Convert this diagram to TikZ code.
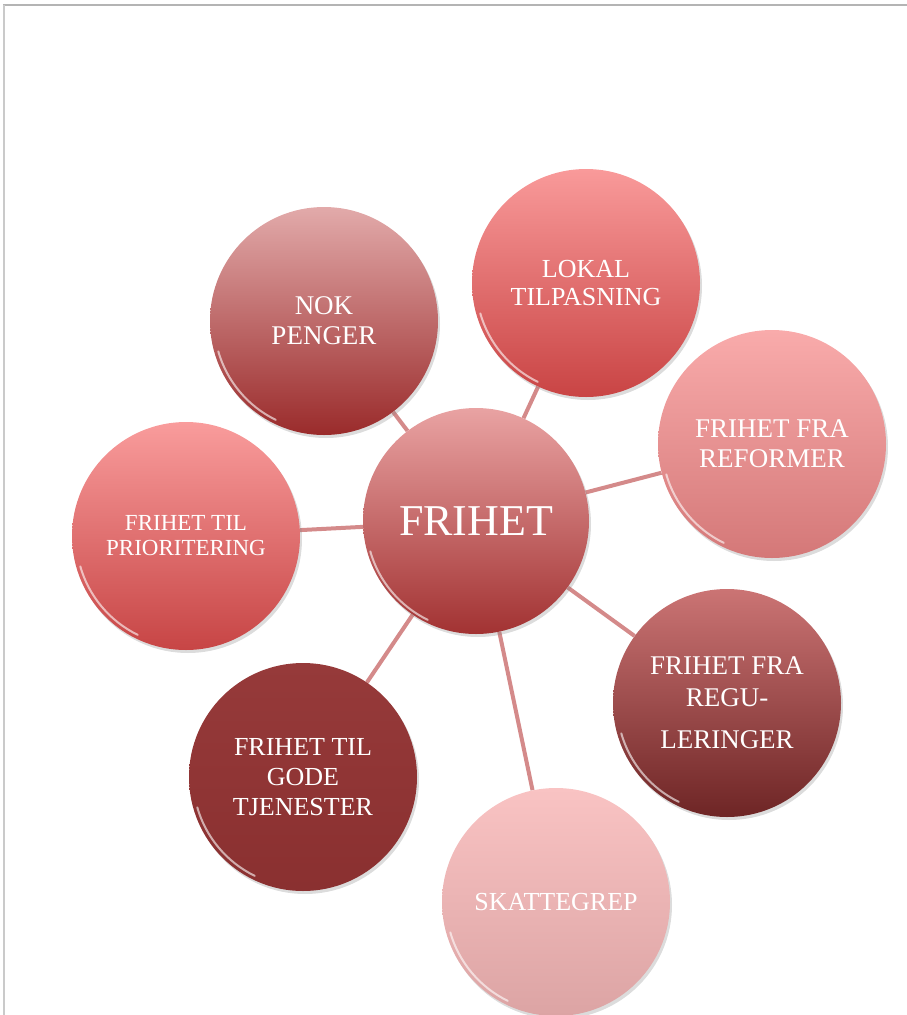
\documentclass[tikz,border=0pt]{standalone}
\usepackage{fontspec}
\setmainfont{Liberation Serif}
\usetikzlibrary{backgrounds,shadows}
\definecolor{spokecol}{HTML}{D48A8A}
\definecolor{framecol}{HTML}{B4B4B4}
\tikzset{x=1pt,y=-1pt}
\tikzset{bubble/.style={circle,minimum size=228pt,inner sep=0pt,align=center,text=white,
        drop shadow={opacity=0.28,shadow xshift=2pt,shadow yshift=-3pt},
        path picture={\draw[white,line width=2pt,opacity=0.6,line cap=round]
            ([shift={(196:110pt)}]path picture bounding box.center)
            arc[start angle=196,end angle=244,radius=110pt];}},
    spoke/.style={draw=spokecol,line width=4pt}}

\begin{document}
\begin{tikzpicture}
                \useasboundingbox (0,0) rectangle (907,1015);
                \draw[framecol,line width=1.2pt] (3,5) -- (907,5);
                \draw[framecol!70,line width=1.2pt] (4,5) -- (4,1015);
                \node[bubble,top color={rgb,255:red,233;green,163;blue,163},bottom color={rgb,255:red,162;green,50;blue,50},
                    minimum size=226pt,font=\fontsize{44}{50}\selectfont] (frihet) at (476,521) {FRIHET};
                \node[bubble,top color={rgb,255:red,226;green,170;blue,170},bottom color={rgb,255:red,154;green,43;blue,43},
                    font=\fontsize{27}{30}\selectfont] (nok) at (324,321) {NOK\\PENGER};
                \node[bubble,top color={rgb,255:red,249;green,154;blue,154},bottom color={rgb,255:red,201;green,68;blue,68},
                    font=\fontsize{26}{28}\selectfont] (lokal) at (586,283) {LOKAL\\TILPASNING};
                \node[bubble,top color={rgb,255:red,249;green,171;blue,171},bottom color={rgb,255:red,212;green,120;blue,120},
                    font=\fontsize{27}{30}\selectfont] (reform) at (772,444) {FRIHET FRA\\REFORMER};
                \node[bubble,top color={rgb,255:red,203;green,116;blue,116},bottom color={rgb,255:red,110;green,37;blue,37},
                    font=\fontsize{27}{32}\selectfont] (regul) at (727,703) {FRIHET FRA\\REGU-\\[10pt]LERINGER};
                \node[bubble,top color={rgb,255:red,249;green,195;blue,195},bottom color={rgb,255:red,220;green,164;blue,164},
                    font=\fontsize{26}{30}\selectfont] (skatt) at (556,902) {SKATTEGREP};
                \node[bubble,top color={rgb,255:red,150;green,58;blue,58},bottom color={rgb,255:red,138;green,48;blue,48},
                    font=\fontsize{26}{30}\selectfont] (gode) at (303,777) {FRIHET TIL\\GODE\\TJENESTER};
                \node[bubble,top color={rgb,255:red,249;green,156;blue,156},bottom color={rgb,255:red,199;green,69;blue,69},
                    font=\fontsize{23}{25}\selectfont] (prior) at (186,536) {FRIHET TIL\\PRIORITERING};
                \begin{scope}[on background layer]
                \path[spoke]
                    (frihet) edge (nok)
                    (frihet) edge (lokal)
                    (frihet) edge (reform)
                    (frihet) edge (regul)
                    (frihet) edge (skatt)
                    (frihet) edge (gode)
                    (frihet) edge (prior)
                    ;
                \end{scope}
            \end{tikzpicture}
\end{document}
